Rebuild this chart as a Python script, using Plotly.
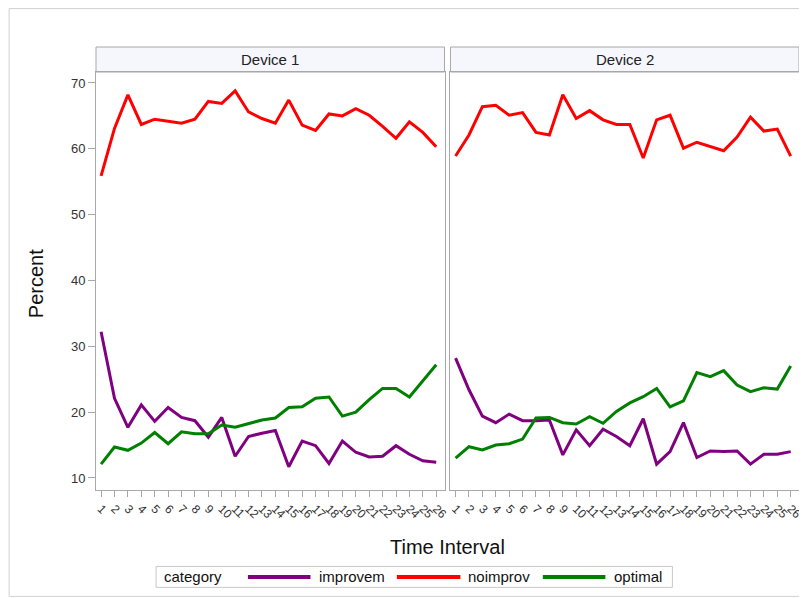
import plotly.graph_objects as go
from plotly.subplots import make_subplots

intervals = list(range(1, 27))
tick_labels = [str(i) for i in intervals]
devices = ["Device 1", "Device 2"]
categories = ["improvem", "noimprov", "optimal"]

dev1_improvem = [32.2, 22.1, 17.7, 21.1, 18.6, 20.7, 19.2, 18.7, 16.2, 19.2, 13.3, 16.3, 16.8, 17.2, 11.7, 15.6,
                 14.9, 12.2, 15.6, 13.9, 13.2, 13.3, 14.9, 13.6, 12.6, 12.4]
dev1_noimprov = [55.9, 63.1, 68.2, 63.7, 64.5, 64.2, 63.9, 64.5, 67.2, 66.9, 68.8, 65.6, 64.6, 63.9, 67.4, 63.6,
                 62.8, 65.3, 65.0, 66.1, 65.1, 63.4, 61.6, 64.1, 62.5, 60.3]
dev1_optimal = [12.1, 14.7, 14.2, 15.3, 16.9, 15.2, 17.0, 16.7, 16.7, 18.05, 17.7, 18.3, 18.8, 19.1, 20.7, 20.8,
                22.1, 22.3, 19.4, 20.0, 21.9, 23.6, 23.6, 22.3, 24.8, 27.2]

dev2_improvem = [28.2, 23.4, 19.4, 18.4, 19.7, 18.7, 18.7, 18.8, 13.5, 17.3, 14.9, 17.4, 16.3, 14.9, 19.0, 12.1,
                 14.0, 18.4, 13.1, 14.1, 14.0, 14.1, 12.1, 13.6, 13.6, 14.0]
dev2_noimprov = [58.9, 62.1, 66.4, 66.6, 65.1, 65.5, 62.5, 62.1, 68.2, 64.6, 65.8, 64.4, 63.7, 63.7, 58.6, 64.4,
                 65.1, 60.1, 61.0, 60.4, 59.7, 61.8, 64.8, 62.7, 63.0, 58.9]
dev2_optimal = [13.0, 14.75, 14.25, 15.0, 15.2, 15.9, 19.1, 19.2, 18.4, 18.2, 19.3, 18.3, 20.1, 21.4, 22.35, 23.6,
                20.8, 21.7, 26.0, 25.4, 26.3, 24.1, 23.1, 23.7, 23.5, 27.0]

colors = {"improvem": "#800080", "noimprov": "#ff0000", "optimal": "#008000"}
series = [
    {"improvem": dev1_improvem, "noimprov": dev1_noimprov, "optimal": dev1_optimal},
    {"improvem": dev2_improvem, "noimprov": dev2_noimprov, "optimal": dev2_optimal},
]

# page body has an 8px margin; figure occupies x 8..807, y 8..598
OFF = 8
W, H = 799, 590
ML, MT = 96 - OFF, 72 - OFF
MR = W - (804 - OFF)
MB = H - (490.5 - OFF)
PW = W - ML - MR
PH = H - MT - MB


def px_x(x):
    return (x - OFF - ML) / PW


def px_y(y):
    return ((490.5 - OFF) - (y - OFF)) / PH


fig = make_subplots(rows=1, cols=2, shared_yaxes=True, horizontal_spacing=6 / PW)

for d, data in enumerate(series):
    for cat in categories:
        fig.add_trace(
            go.Scatter(x=intervals, y=data[cat], mode="lines", name=cat,
                       line=dict(color=colors[cat], width=3),
                       showlegend=False, legendgroup=cat),
            row=1, col=d + 1)

font_family = "Arial, Liberation Sans, sans-serif"
axis_grey = "#a8a8a8"

for c in (1, 2):
    fig.update_xaxes(
        row=1, col=c, range=[0.62, 26.62], tickmode="array", tickvals=intervals, ticktext=tick_labels,
        tickangle=45, ticks="outside", ticklen=6, tickcolor=axis_grey, showgrid=False, zeroline=False,
        showline=True, linecolor=axis_grey, mirror=True, linewidth=1,
        tickfont=dict(size=12, color="#333333", family=font_family))
    fig.update_yaxes(
        row=1, col=c, range=[8.17, 71.67], tickvals=[10, 20, 30, 40, 50, 60, 70],
        showgrid=False, zeroline=False, showline=True, linecolor=axis_grey, mirror=True, linewidth=1,
        tickfont=dict(size=13, color="#333333", family=font_family))

fig.update_yaxes(row=1, col=1, ticks="outside", ticklen=7, tickcolor=axis_grey)
fig.update_yaxes(row=1, col=2, ticks="")

# panel header strips
hdr_h = 25 / PH
for d, name in enumerate(devices):
    xref = "x domain" if d == 0 else "x2 domain"
    fig.add_shape(type="rect", xref=xref, yref="paper", x0=0, x1=1, y0=1, y1=1 + hdr_h,
                  fillcolor="#f5f7fc", line=dict(color=axis_grey, width=1), layer="below")
    fig.add_annotation(text=name, xref=xref, yref="paper", x=0.5, y=1 + hdr_h / 2, showarrow=False,
                       font=dict(size=15, color="#222222", family=font_family), yanchor="middle")

# axis titles
fig.add_annotation(text="Time Interval", xref="paper", yref="paper", x=0.5, y=px_y(548),
                   showarrow=False, yanchor="middle",
                   font=dict(size=20, color="#111111", family=font_family))
fig.add_annotation(text="Percent", xref="paper", yref="paper", x=px_x(35), y=px_y(284),
                   showarrow=False, xanchor="center", yanchor="middle", textangle=-90,
                   font=dict(size=20, color="#111111", family=font_family))

# outer border
fig.add_shape(type="rect", xref="paper", yref="paper",
              x0=px_x(8.5), x1=px_x(806), y0=px_y(597), y1=px_y(8.5),
              line=dict(color="#d0d0d0", width=1), fillcolor="rgba(0,0,0,0)", layer="below")

# legend (drawn manually to match long line swatches)
leg_y = px_y(577.5)
fig.add_shape(type="rect", xref="paper", yref="paper", x0=px_x(156.5), x1=px_x(676.5),
              y0=px_y(588), y1=px_y(567), line=dict(color="#c8c8c8", width=1), fillcolor="white")
fig.add_annotation(text="category", xref="paper", yref="paper", x=px_x(162), y=leg_y, xanchor="left",
                   yanchor="middle", showarrow=False, font=dict(size=15, color="#111111", family=font_family))
legend_pos = {"improvem": (249, 312, 319), "noimprov": (399, 463, 469), "optimal": (546, 609, 616)}
for cat in categories:
    x0, x1, tx = legend_pos[cat]
    fig.add_shape(type="line", xref="paper", yref="paper", x0=px_x(x0), x1=px_x(x1), y0=leg_y, y1=leg_y,
                  line=dict(color=colors[cat], width=4))
    fig.add_annotation(text=cat, xref="paper", yref="paper", x=px_x(tx), y=leg_y, xanchor="left",
                       yanchor="middle", showarrow=False,
                       font=dict(size=15, color="#111111", family=font_family))

fig.update_layout(
    width=W, height=H,
    margin=dict(l=ML, r=MR, t=MT, b=MB),
    paper_bgcolor="white", plot_bgcolor="white",
    font=dict(family=font_family, color="#222222"),
    showlegend=False,
)

fig.write_html("out.html")
